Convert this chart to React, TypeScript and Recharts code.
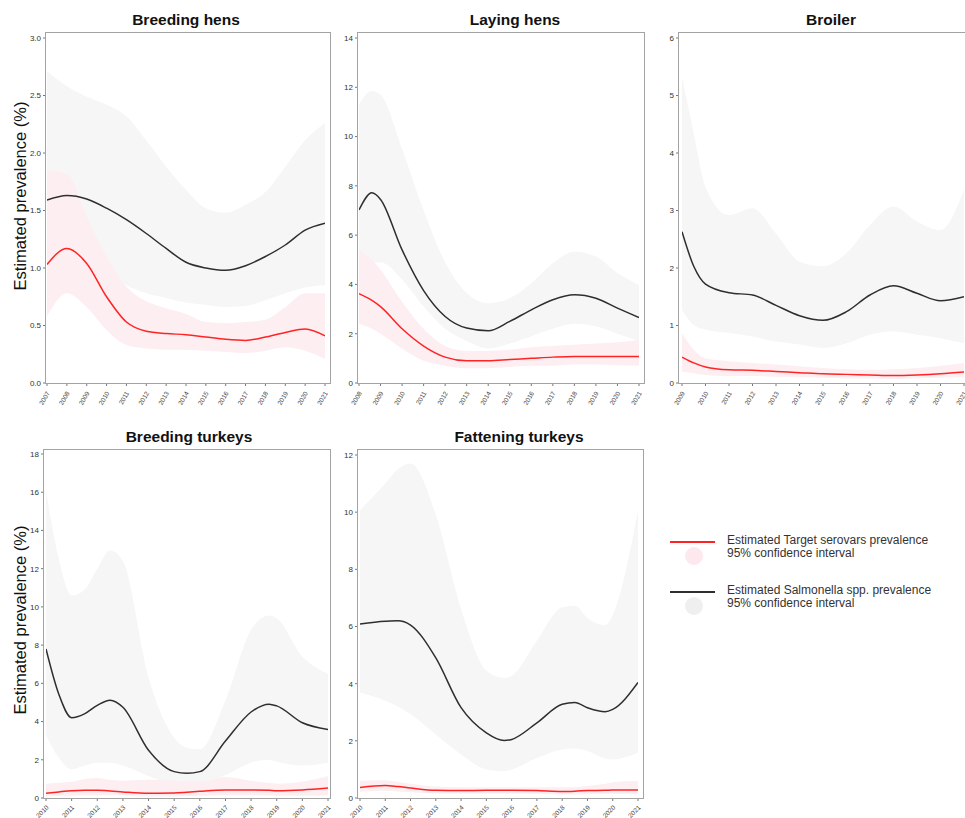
import React from "react";
import { Area, ComposedChart, Line, XAxis, YAxis } from "recharts";

/* Estimated prevalence panels: Salmonella spp. (black) vs target serovars (red), with 95% CI bands. */

// Breeding hens
const bhYears = [2007, 2008, 2009, 2010, 2011, 2012, 2013, 2014, 2015, 2016, 2017, 2018, 2019, 2020, 2021];
const bhSal = [1.59, 1.63, 1.6, 1.52, 1.42, 1.3, 1.17, 1.05, 1.0, 0.98, 1.02, 1.1, 1.2, 1.33, 1.39];
const bhSalLo = [0.95, 1.04, 1.02, 0.95, 0.85, 0.78, 0.74, 0.7, 0.68, 0.66, 0.67, 0.72, 0.78, 0.83, 0.85];
const bhSalHi = [2.71, 2.58, 2.49, 2.42, 2.32, 2.11, 1.88, 1.68, 1.52, 1.48, 1.55, 1.66, 1.88, 2.11, 2.26];
const bhTgt = [1.03, 1.17, 1.04, 0.75, 0.53, 0.45, 0.43, 0.42, 0.4, 0.38, 0.37, 0.4, 0.44, 0.47, 0.41];
const bhTgtLo = [0.58, 0.78, 0.66, 0.46, 0.33, 0.3, 0.29, 0.29, 0.28, 0.27, 0.26, 0.28, 0.31, 0.28, 0.21];
const bhTgtHi = [1.85, 1.82, 1.45, 1.1, 0.84, 0.71, 0.65, 0.6, 0.53, 0.52, 0.53, 0.55, 0.66, 0.78, 0.78];
const bhXTicks = [2007, 2008, 2009, 2010, 2011, 2012, 2013, 2014, 2015, 2016, 2017, 2018, 2019, 2020, 2021];
const bhYTicks = [0, 0.5, 1, 1.5, 2, 2.5, 3];

// Laying hens
const lhYears = [2008, 2008.6, 2009, 2010, 2011, 2012, 2013, 2014, 2015, 2016, 2017, 2018, 2019, 2020, 2021];
const lhSal = [7.02, 7.72, 7.45, 5.4, 3.75, 2.7, 2.23, 2.12, 2.5, 2.97, 3.38, 3.58, 3.44, 3.04, 2.66];
const lhSalLo = [4.5, 4.85, 4.9, 4.2, 3.1, 2.2, 1.7, 1.4, 1.6, 1.9, 2.2, 2.4, 2.3, 2.0, 1.7];
const lhSalHi = [11.3, 11.85, 11.7, 9.5, 7.0, 4.9, 3.65, 3.24, 3.44, 4.05, 4.86, 5.33, 5.13, 4.46, 3.98];
const lhTgt = [3.62, 3.35, 3.1, 2.2, 1.5, 1.05, 0.9, 0.9, 0.95, 1.0, 1.05, 1.08, 1.08, 1.08, 1.08];
const lhTgtLo = [2.4, 2.2, 2.0, 1.4, 0.9, 0.7, 0.6, 0.6, 0.65, 0.7, 0.7, 0.75, 0.75, 0.72, 0.7];
const lhTgtHi = [5.4, 5.0, 4.6, 3.3, 2.2, 1.5, 1.3, 1.3, 1.35, 1.45, 1.5, 1.55, 1.6, 1.65, 1.75];
const lhXTicks = [2008, 2009, 2010, 2011, 2012, 2013, 2014, 2015, 2016, 2017, 2018, 2019, 2020, 2021];
const lhYTicks = [0, 2, 4, 6, 8, 10, 12, 14];

// Broiler
const brYears = [2009, 2009.5, 2010, 2011, 2012, 2013, 2014, 2015, 2016, 2017, 2018, 2019, 2020, 2021];
const brSal = [2.63, 2.03, 1.72, 1.57, 1.53, 1.35, 1.17, 1.09, 1.24, 1.53, 1.69, 1.56, 1.43, 1.5];
const brSalLo = [1.27, 1.01, 0.93, 0.87, 0.81, 0.72, 0.67, 0.61, 0.69, 0.84, 0.9, 0.84, 0.78, 0.69];
const brSalHi = [5.32, 4.34, 3.41, 2.92, 3.04, 2.6, 2.11, 2.03, 2.26, 2.75, 3.07, 2.81, 2.66, 3.36];
const brTgt = [0.45, 0.35, 0.28, 0.23, 0.22, 0.2, 0.18, 0.16, 0.15, 0.14, 0.13, 0.14, 0.16, 0.19];
const brTgtLo = [0.2, 0.17, 0.14, 0.12, 0.12, 0.11, 0.1, 0.09, 0.08, 0.08, 0.07, 0.08, 0.09, 0.1];
const brTgtHi = [0.87, 0.58, 0.43, 0.38, 0.35, 0.32, 0.29, 0.26, 0.24, 0.23, 0.24, 0.26, 0.3, 0.35];
const brXTicks = [2009, 2010, 2011, 2012, 2013, 2014, 2015, 2016, 2017, 2018, 2019, 2020, 2021];
const brYTicks = [0, 1, 2, 3, 4, 5, 6];

// Breeding turkeys
const btYears = [2010, 2010.5, 2011, 2011.5, 2012, 2012.5, 2013, 2014, 2015, 2015.5, 2016, 2017, 2018, 2018.7, 2019, 2020, 2021];
const btSal = [7.8, 5.43, 4.2, 4.4, 4.85, 5.12, 4.75, 2.5, 1.38, 1.3, 1.38, 2.98, 4.5, 4.91, 4.82, 3.94, 3.59];
const btSalLo = [3.3, 2.1, 1.5, 1.7, 1.85, 1.85, 1.7, 1.15, 0.7, 0.6, 0.7, 1.2, 1.85, 2.0, 1.9, 1.7, 1.85];
const btSalHi = [16.1, 12.5, 10.6, 10.9, 12.0, 12.95, 12.4, 6.3, 3.15, 2.63, 2.55, 5.1, 8.8, 9.55, 9.4, 7.4, 6.5];
const btTgt = [0.25, 0.32, 0.38, 0.4, 0.4, 0.37, 0.32, 0.25, 0.26, 0.3, 0.35, 0.42, 0.42, 0.4, 0.38, 0.42, 0.52];
const btTgtLo = [0.1, 0.11, 0.12, 0.14, 0.15, 0.14, 0.13, 0.08, 0.08, 0.1, 0.12, 0.15, 0.15, 0.13, 0.12, 0.12, 0.15];
const btTgtHi = [0.75, 0.8, 0.85, 1.0, 1.05, 0.95, 0.9, 0.95, 0.9, 0.88, 0.85, 1.1, 0.9, 0.8, 0.75, 0.85, 1.15];
const btXTicks = [2010, 2011, 2012, 2013, 2014, 2015, 2016, 2017, 2018, 2019, 2020, 2021];
const btYTicks = [0, 2, 4, 6, 8, 10, 12, 14, 16, 18];

// Fattening turkeys
const ftYears = [2010, 2011, 2011.5, 2012, 2013, 2014, 2015, 2015.7, 2016, 2017, 2018, 2018.5, 2019, 2019.7, 2020, 2021];
const ftSal = [6.09, 6.18, 6.2, 6.05, 4.9, 3.16, 2.28, 2.01, 2.05, 2.63, 3.28, 3.34, 3.16, 3.02, 3.1, 4.04];
const ftSalLo = [3.69, 3.4, 3.2, 2.93, 2.22, 1.52, 1.0, 0.94, 1.0, 1.4, 1.7, 1.73, 1.64, 1.38, 1.35, 1.58];
const ftSalHi = [10.07, 11.0, 11.5, 11.7, 9.9, 6.6, 4.45, 4.2, 4.27, 5.5, 6.67, 6.73, 6.3, 6.05, 6.4, 10.07];
const ftTgt = [0.37, 0.44, 0.4, 0.35, 0.27, 0.26, 0.27, 0.27, 0.27, 0.26, 0.23, 0.24, 0.26, 0.27, 0.28, 0.28];
const ftTgtLo = [0.22, 0.25, 0.23, 0.2, 0.16, 0.15, 0.15, 0.15, 0.15, 0.14, 0.12, 0.12, 0.13, 0.14, 0.14, 0.13];
const ftTgtHi = [0.6, 0.62, 0.56, 0.5, 0.4, 0.38, 0.38, 0.38, 0.38, 0.38, 0.38, 0.38, 0.42, 0.5, 0.55, 0.6];
const ftXTicks = [2010, 2011, 2012, 2013, 2014, 2015, 2016, 2017, 2018, 2019, 2020, 2021];
const ftYTicks = [0, 2, 4, 6, 8, 10, 12];

const FONT = "'Liberation Sans', Arial, sans-serif";
const BOX = "#a3a3a3";
const GRAY_BAND = "#f6f6f6";
const PINK_BAND = "#fdeef2";
const BLACK = "#2e2e2e";
const RED = "#ff2424";

interface Row {
  year: number;
  sal: number;
  salLo: number;
  salHi: number;
  tgt: number;
  tgtLo: number;
  tgtHi: number;
}

function toRows(
  years: number[],
  sal: number[],
  salLo: number[],
  salHi: number[],
  tgt: number[],
  tgtLo: number[],
  tgtHi: number[],
): Row[] {
  return years.map((year, i) => ({
    year,
    sal: sal[i],
    salLo: salLo[i],
    salHi: salHi[i],
    tgt: tgt[i],
    tgtLo: tgtLo[i],
    tgtHi: tgtHi[i],
  }));
}

function makeYearTick(angle: number) {
  return function YearTick({ x, y, payload }: any) {
    return (
      <text
        x={x + 3}
        y={y + 5}
        transform={`rotate(${angle} ${x + 3} ${y + 5})`}
        textAnchor="end"
        fontSize={6.5}
        fill="#444"
        fontFamily={FONT}
      >
        {payload.value}
      </text>
    );
  };
}

interface Box {
  left: number;
  top: number;
  right: number;
  bottom: number;
}

function Panel({
  title,
  titleX,
  data,
  xTicks,
  yTicks,
  decimals,
  box,
  padX,
  padTop,
  tickAngle,
}: {
  title: string;
  titleX: number;
  data: Row[];
  xTicks: number[];
  yTicks: number[];
  decimals: number;
  box: Box;
  padX: [number, number];
  padTop: number;
  tickAngle: number;
}) {
  const AXW = 30;
  const AXH = 36;
  const M = 2;
  const plotW = box.right - box.left;
  const plotH = box.bottom - box.top;
  const YearTick = makeYearTick(tickAngle);

  return (
    <>
      <div
        style={{
          position: "absolute",
          left: titleX,
          top: box.top - 13,
          transform: "translate(-50%, -50%)",
          fontFamily: FONT,
          fontWeight: 700,
          fontSize: 15.5,
          color: "#111",
          whiteSpace: "nowrap",
        }}
      >
        {title}
      </div>
      <div style={{ position: "absolute", left: box.left - AXW, top: box.top - M }}>
        <ComposedChart
          width={AXW + plotW + M}
          height={M + plotH + AXH}
          data={data}
          margin={{ top: M, right: M, left: 0, bottom: 0 }}
        >
          <XAxis
            dataKey="year"
            type="number"
            domain={[xTicks[0], xTicks[xTicks.length - 1]]}
            ticks={xTicks}
            interval={0}
            padding={{ left: padX[0], right: padX[1] }}
            height={AXH}
            tick={<YearTick />}
            tickSize={3}
            tickLine={{ stroke: "#777" }}
            axisLine={false}
            allowDataOverflow
          />
          <YAxis
            type="number"
            domain={[0, yTicks[yTicks.length - 1]]}
            ticks={yTicks}
            interval={0}
            padding={{ top: padTop, bottom: 0 }}
            width={AXW}
            tickFormatter={(v: number) => v.toFixed(decimals)}
            tick={{ fontSize: 8, fill: "#333", fontFamily: FONT }}
            tickSize={3}
            tickLine={{ stroke: "#777" }}
            axisLine={false}
            allowDataOverflow
          />
          <Area
            dataKey={(d: Row) => [d.salLo, d.salHi]}
            type="monotone"
            stroke="none"
            fill={GRAY_BAND}
            fillOpacity={1}
            isAnimationActive={false}
          />
          <Area
            dataKey={(d: Row) => [d.tgtLo, d.tgtHi]}
            type="monotone"
            stroke="none"
            fill={PINK_BAND}
            fillOpacity={1}
            isAnimationActive={false}
          />
          <Line dataKey="sal" type="monotone" stroke={BLACK} strokeWidth={1.5} dot={false} isAnimationActive={false} />
          <Line dataKey="tgt" type="monotone" stroke={RED} strokeWidth={1.5} dot={false} isAnimationActive={false} />
        </ComposedChart>
      </div>
      {/* panel frame */}
      <div
        style={{
          position: "absolute",
          left: box.left - 1,
          top: box.top - 1,
          width: plotW,
          height: plotH,
          border: `1.5px solid ${BOX}`,
          pointerEvents: "none",
        }}
      />
    </>
  );
}

function YLabel({ y }: { y: number }) {
  return (
    <div
      style={{
        position: "absolute",
        left: 20,
        top: y,
        transform: "translate(-50%, -50%) rotate(-90deg)",
        fontFamily: FONT,
        fontSize: 16.5,
        color: "#111",
        whiteSpace: "nowrap",
      }}
    >
      Estimated prevalence (%)
    </div>
  );
}

function LegendEntry({ top, color, dot, label }: { top: number; color: string; dot: string; label: string }) {
  return (
    <div style={{ position: "absolute", left: 668, top, width: 290, height: 34 }}>
      <svg width={60} height={34} style={{ position: "absolute", left: 0, top: 0 }}>
        <line x1={2} x2={47} y1={8} y2={8} stroke={color} strokeWidth={2} />
        <circle cx={26} cy={22} r={9} fill={dot} />
      </svg>
      <div
        style={{
          position: "absolute",
          left: 59,
          top: 0,
          fontFamily: FONT,
          fontSize: 12,
          lineHeight: "13px",
          color: "#333",
          whiteSpace: "nowrap",
        }}
      >
        {label}
        <br />
        95% confidence interval
      </div>
    </div>
  );
}

export default function App() {
  return (
    <div
      style={{
        position: "absolute",
        left: 0,
        top: 0,
        width: 965,
        height: 818,
        overflow: "hidden",
        background: "#fff",
      }}
    >
      <Panel
        title="Breeding hens"
        titleX={186}
        data={toRows(bhYears, bhSal, bhSalLo, bhSalHi, bhTgt, bhTgtLo, bhTgtHi)}
        xTicks={bhXTicks}
        yTicks={bhYTicks}
        decimals={1}
        box={{ left: 46, top: 33, right: 330, bottom: 383 }}
        padX={[1, 5]}
        padTop={5}
        tickAngle={-60}
      />
      <Panel
        title="Laying hens"
        titleX={515}
        data={toRows(lhYears, lhSal, lhSalLo, lhSalHi, lhTgt, lhTgtLo, lhTgtHi)}
        xTicks={lhXTicks}
        yTicks={lhYTicks}
        decimals={0}
        box={{ left: 358, top: 33, right: 644, bottom: 383 }}
        padX={[1, 5]}
        padTop={5}
        tickAngle={-60}
      />
      <Panel
        title="Broiler"
        titleX={831}
        data={toRows(brYears, brSal, brSalLo, brSalHi, brTgt, brTgtLo, brTgtHi)}
        xTicks={brXTicks}
        yTicks={brYTicks}
        decimals={0}
        box={{ left: 679, top: 33, right: 969, bottom: 383 }}
        padX={[3, 5]}
        padTop={5}
        tickAngle={-60}
      />
      <Panel
        title="Breeding turkeys"
        titleX={189}
        data={toRows(btYears, btSal, btSalLo, btSalHi, btTgt, btTgtLo, btTgtHi)}
        xTicks={btXTicks}
        yTicks={btYTicks}
        decimals={0}
        box={{ left: 44, top: 450, right: 330, bottom: 798 }}
        padX={[2, 2]}
        padTop={4}
        tickAngle={-45}
      />
      <Panel
        title="Fattening turkeys"
        titleX={519}
        data={toRows(ftYears, ftSal, ftSalLo, ftSalHi, ftTgt, ftTgtLo, ftTgtHi)}
        xTicks={ftXTicks}
        yTicks={ftYTicks}
        decimals={0}
        box={{ left: 358, top: 450, right: 643, bottom: 798 }}
        padX={[2, 5]}
        padTop={5}
        tickAngle={-45}
      />
      <YLabel y={196} />
      <YLabel y={620} />
      <LegendEntry top={534} color={RED} dot="#fde8ee" label="Estimated Target serovars prevalence" />
      <LegendEntry top={584} color={BLACK} dot="#efefef" label="Estimated Salmonella spp. prevalence" />
    </div>
  );
}
